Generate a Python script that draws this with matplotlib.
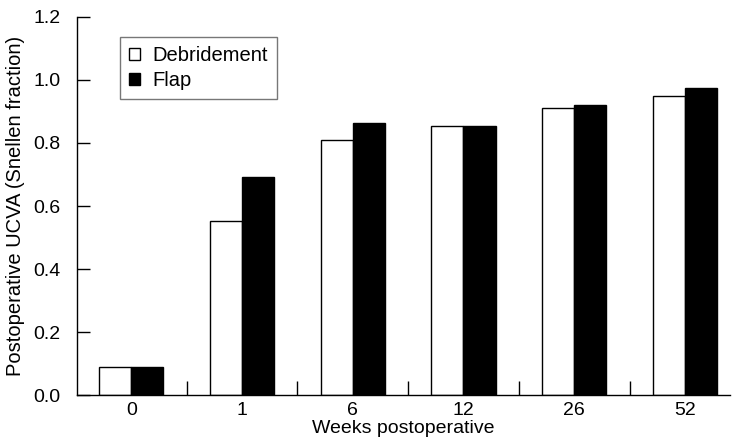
import numpy as np
import matplotlib.pyplot as plt
from matplotlib.ticker import FixedLocator

plt.rcParams['font.family'] = ['Liberation Sans', 'DejaVu Sans']

weeks = ['0', '1', '6', '12', '26', '52']
debridement = [0.088, 0.552, 0.810, 0.853, 0.912, 0.950]
flap = [0.088, 0.692, 0.864, 0.853, 0.921, 0.973]

x = np.arange(len(weeks))
w = 0.29

fig = plt.figure(figsize=(7.34, 4.44), dpi=100)
ax = fig.add_axes([0.105, 0.110, 0.890, 0.852])

ax.bar(x - w / 2, debridement, w, color='white', edgecolor='black', linewidth=1.0,
       label='Debridement')
ax.bar(x + w / 2, flap, w, color='black', edgecolor='black', linewidth=1.0,
       label='Flap')

ax.set_xlim(-0.49, 5.41)
ax.set_ylim(0, 1.2)
ax.set_yticks([0.0, 0.2, 0.4, 0.6, 0.8, 1.0, 1.2])
ax.set_yticklabels(['0.0', '0.2', '0.4', '0.6', '0.8', '1.0', '1.2'])
ax.set_xticks(x)
ax.set_xticklabels(weeks)
ax.xaxis.set_minor_locator(FixedLocator(x[:-1] + 0.5))

ax.tick_params(axis='y', direction='in', length=9, width=1, labelsize=14, pad=12)
ax.tick_params(axis='x', which='major', length=0, labelsize=14, pad=5)
ax.tick_params(axis='x', which='minor', direction='in', length=10, width=1)

for s in ['top', 'right']:
    ax.spines[s].set_visible(False)
for s in ['left', 'bottom']:
    ax.spines[s].set_linewidth(1.0)

ax.set_xlabel('Weeks postoperative', fontsize=14, labelpad=1)
ax.set_ylabel('Postoperative UCVA (Snellen fraction)', fontsize=14.5, labelpad=6)

leg = ax.legend(loc='upper left', bbox_to_anchor=(0.066, 0.947), fontsize=14.5,
                frameon=True, fancybox=False, handlelength=0.55, handleheight=0.55,
                handletextpad=0.6, borderpad=0.45, labelspacing=0.3,
                borderaxespad=0)
leg.get_frame().set_edgecolor('#555555')
leg.get_frame().set_linewidth(1.0)

fig.savefig('out.png', dpi=100)
